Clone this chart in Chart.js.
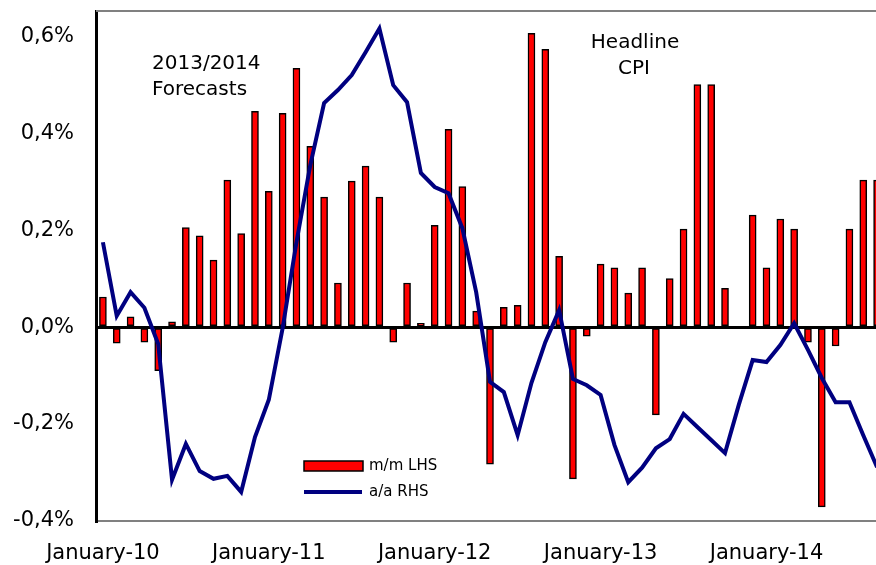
<!DOCTYPE html>
<html><head><meta charset="utf-8">
<script src="https://cdn.jsdelivr.net/npm/chart.js@4/dist/chart.umd.min.js"></script>
<style>
html,body{margin:0;padding:0;overflow:hidden;background:#fff;width:876px;height:565px}
#wrap{width:884px;height:565px}
</style></head>
<body><div id="wrap"><canvas id="c" width="884" height="565"></canvas></div>
<script>
const months = [
 'Jan-10','Feb-10','Mar-10','Apr-10','May-10','Jun-10','Jul-10','Aug-10','Sep-10','Oct-10','Nov-10','Dec-10',
 'Jan-11','Feb-11','Mar-11','Apr-11','May-11','Jun-11','Jul-11','Aug-11','Sep-11','Oct-11','Nov-11','Dec-11',
 'Jan-12','Feb-12','Mar-12','Apr-12','May-12','Jun-12','Jul-12','Aug-12','Sep-12','Oct-12','Nov-12','Dec-12',
 'Jan-13','Feb-13','Mar-13','Apr-13','May-13','Jun-13','Jul-13','Aug-13','Sep-13','Oct-13','Nov-13','Dec-13',
 'Jan-14','Feb-14','Mar-14','Apr-14','May-14','Jun-14','Jul-14','Aug-14','Sep-14'
];
// m/m change, LHS (%)
const mmLHS = [
 0.062,-0.033,0.021,-0.031,-0.090,0.011,0.205,0.188,0.138,0.303,0.193,0.445,
 0.280,0.441,0.534,0.373,0.268,0.091,0.301,0.332,0.268,-0.031,0.091,0.008,
 0.210,0.408,0.290,0.033,-0.283,0.041,0.045,0.606,0.573,0.146,-0.313,-0.019,
 0.130,0.122,0.070,0.122,-0.181,0.100,0.202,0.500,0.500,0.080,null,0.231,
 0.122,0.223,0.202,-0.031,-0.371,-0.039,0.202,0.303,0.303
];
// a/a change, RHS (read in LHS units, RHS axis not visible)
const aaRHS = [
 0.175,0.023,0.072,0.040,-0.035,-0.315,-0.241,-0.297,-0.313,-0.307,-0.340,-0.227,
 -0.150,-0.002,0.175,0.334,0.462,0.489,0.520,0.567,0.616,0.499,0.464,0.318,
 0.289,0.276,0.204,0.072,-0.113,-0.134,-0.223,-0.115,-0.031,0.035,-0.107,-0.120,
 -0.140,-0.243,-0.320,-0.290,-0.250,-0.231,-0.179,-0.206,-0.233,-0.260,-0.160,-0.068,
 -0.072,-0.037,0.008,-0.047,-0.105,-0.155,-0.155,-0.223,-0.289
];
const yTicks = [-0.4,-0.2,0,0.2,0.4,0.6];
const seriesLabels = ['m/m LHS','a/a RHS'];
const notes = [['2013/2014','Forecasts'],['Headline','CPI']];

const FONT = 'DejaVu Sans';
const yMin = -0.4, yMax = 0.652;

const fmt = v => (Math.round(v*10)/10).toFixed(1).replace('.',',').replace('-0,0','0,0') + '%';

const overlay = {
  id:'overlay',
  afterDraw(chart){
    const ctx = chart.ctx, a = chart.chartArea;
    ctx.save();
    ctx.strokeStyle = '#808080'; ctx.lineWidth = 2;
    ctx.beginPath(); ctx.moveTo(a.left, a.top); ctx.lineTo(a.right, a.top); ctx.stroke();
    ctx.fillStyle = '#000'; ctx.font = '20px "' + FONT + '"'; ctx.textBaseline = 'middle';
    ctx.textAlign = 'left';
    ctx.fillText(notes[0][0], 152, 64);
    ctx.fillText(notes[0][1], 152, 90);
    ctx.textAlign = 'center';
    ctx.fillText(notes[1][0], 635, 43);
    ctx.fillText(notes[1][1], 634, 69);
    const ds = chart.data.datasets;
    const bar = ds.find(d => d.label === seriesLabels[0]);
    const line = ds.find(d => d.label === seriesLabels[1]);
    ctx.fillStyle = bar.backgroundColor; ctx.fillRect(304, 461, 59, 10);
    ctx.strokeStyle = '#000'; ctx.lineWidth = 1.5; ctx.strokeRect(304, 461, 59, 10);
    ctx.strokeStyle = line.borderColor; ctx.lineWidth = 4;
    ctx.beginPath(); ctx.moveTo(304, 492); ctx.lineTo(362, 492); ctx.stroke();
    ctx.fillStyle = '#000'; ctx.font = '15px "' + FONT + '"'; ctx.textAlign = 'left';
    ctx.fillText(seriesLabels[0], 369, 466);
    ctx.fillText(seriesLabels[1], 369, 492);
    ctx.restore();
  }
};

new Chart(document.getElementById('c'), {
  data: {
    labels: months,
    datasets: [
      { type:'line', label: seriesLabels[1], data: aaRHS, yAxisID:'y2', order:1,
        borderColor:'#000080', borderWidth:4, pointRadius:0, tension:0, borderJoinStyle:'miter', fill:false },
      { type:'bar', label: seriesLabels[0], data: mmLHS, yAxisID:'y', order:2,
        backgroundColor:'#ff0000', borderColor:'#000', borderWidth:1.5, borderSkipped:false, barThickness:7 }
    ]
  },
  options: {
    responsive:false, animation:false, devicePixelRatio:1,
    layout:{ padding:{ top:11, left:0, right:0, bottom:0 } },
    plugins:{ legend:{display:false}, tooltip:{enabled:false} },
    scales:{
      x:{ type:'category', offset:true,
          grid:{ display:false },
          border:{ display:true, color:'#808080', width:2 },
          ticks:{ autoSkip:false, maxRotation:0, minRotation:0, padding:12, color:'#000',
                  font:{ family:FONT, size:21 },
                  callback:(v,i) => months[i].startsWith('Jan') ? 'January-' + months[i].slice(4) : '' },
          afterFit: s => { s.height = 44; s.paddingLeft = 0; s.paddingRight = 0; } },
      y:{ position:'left', min:yMin, max:yMax,
          afterBuildTicks: s => { s.ticks = yTicks.map(v => ({value:v})); },
          grid:{ drawTicks:false, lineWidth:3,
                 color: c => (c.tick && Math.abs(c.tick.value) < 1e-9) ? '#000' : 'rgba(0,0,0,0)' },
          border:{ display:true, color:'#000', width:3 },
          ticks:{ padding:22, color:'#000', font:{ family:FONT, size:21 }, callback: v => fmt(v) },
          afterFit: s => { s.width = 96; s.paddingTop = 0; s.paddingBottom = 0; } },
      y2:{ position:'right', display:false, min:yMin, max:yMax }
    }
  },
  plugins:[overlay]
});
</script>
</body></html>
